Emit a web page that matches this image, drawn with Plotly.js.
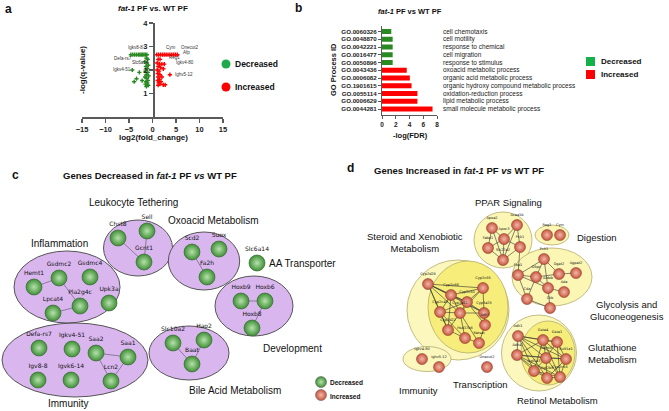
<!DOCTYPE html>
<html>
<head>
<meta charset="utf-8">
<script src="https://cdn.plot.ly/plotly-3.0.1.min.js"></script>
<style>body{margin:0;background:#fff;} #chart{width:669px;height:411px;}</style>
</head>
<body>
<div id="chart"></div>
<script>
// ---- panel a: volcano plot ----
var downX = [-4.6,-4.2,-3.8,-3.4,-3.0,-2.7,-2.4,-2.1,-1.8,-1.5,-1.2,
  -1.3,-1.0,-1.6,-1.2,-0.9,-1.4,-1.1,-4.3,-2.8,-1.5,-1.0,-1.3,-0.8,-3.4,-1.6,-1.2,-2.2,-1.0,-1.4,-3.9,-1.1,-1.5,-0.9,-1.3];
var downY = [2.65,2.65,2.65,2.65,2.65,2.65,2.65,2.65,2.65,2.65,2.65,
  2.5,2.45,2.35,2.3,2.2,2.15,2.05,2.0,1.9,1.95,1.9,1.8,1.75,1.63,1.7,1.65,1.55,1.55,1.5,1.5,1.45,1.4,1.35,1.3];
var upX = [0.9,1.3,1.7,2.1,2.5,2.9,3.3,3.7,4.1,4.5,4.9,5.3,
  1.2,1.6,1.0,1.5,2.0,2.5,1.2,1.7,2.3,1.0,1.4,1.1,1.6,3.7,1.2,2.0,1.5,1.1,1.8,1.3,1.6,2.3,2.7,1.2];
var upY = [2.65,2.65,2.65,2.65,2.65,2.65,2.65,2.65,2.65,2.65,2.65,2.65,
  2.45,2.45,2.3,2.25,2.25,2.25,2.15,2.1,2.05,2.0,1.95,1.85,1.8,1.8,1.7,1.7,1.6,1.55,1.5,1.45,1.4,1.37,1.37,1.35];
var geneLabels = ["Igkv8-8","Defa-rs7","Slc6a14","Igkv4-51","Cym","Onecut2","Afp","Reg1","Igkv4-80","Ighv5-12"];
var geneLabelX = [-3.7,-6.3,-2.6,-6.4,4.0,8.0,7.3,4.6,7.0,6.6];
var geneLabelY = [2.95,2.50,2.33,2.02,2.95,2.95,2.74,2.53,2.30,1.80];

// ---- panel b: GO enrichment ----
var goIds = ["GO.0060326","GO.0048870","GO.0042221","GO.0016477","GO.0050896","GO.0043436",
  "GO.0006082","GO.1901615","GO.0055114","GO.0006629","GO.0044281"];
var goTerms = ["cell chemotaxis","cell motility","response to chemical","cell migration","response to stimulus",
  "oxoacid metabolic process","organic acid metabolic process","organic hydroxy compound metabolic process",
  "oxidation-reduction process","lipid metabolic process","small molecule metabolic process"];
var goFdr = [1.35,1.55,1.55,1.55,1.55,3.6,4.05,4.3,5.15,5.15,7.35];
var goDir = ["down","down","down","down","down","up","up","up","up","up","up"];

// ---- panel c: decreased gene network ----
var cNames = ["Chst8","Sell","Gcnt1","Scd2","Suox","Fa2h","Slc6a14",
  "Hemt1","Gsdmc2","Gsdmc4","Pla2g4c","Lpcat4","Upk3a",
  "Defa-rs7","Igkv4-51","Saa2","Saa1","Igv8-8","Igvk6-14","Lcn2",
  "Slc10a2","Hao2","Baat","Hoxb9","Hoxb6","Hoxb8"];
var cX = [118,147,144,192,219,207,257, 34,59,90,80,53,109, 39,72,96,128,38,71,111, 173,204,192, 241,265,252];
var cY = [238,231,262,252,249,277,263, 287,278,277,306,313,303, 348,349,353,357,380,380,381, 343,340,364, 301,301,328];
var cEdges = [[0,2],[1,2],[3,5],[7,8],[8,10],[10,11],[15,16],[15,19],[16,19],[20,22],[21,22],[23,24],[24,25]];

// ---- panel d: increased gene network ----
var dNames = ["Apoa2","Acaa1b","Apoc3","Fabp1","Pck1","Slc27a2","Reg1","Cym",
  "Cyp2d26","Cyp2c65","Cyp2c68","Cyp2c50","Cyp2c40","Cyp3a11","Cyp3a25","Adh7","Cyp2d22","Hsd17b6","Retsat",
  "Pck1","Fbp1","G6pc","Dgat2","Agpat2","Aldob","Ada","Cda","Ckb",
  "Adh1","Adh4","Gsta4","Gsta1","Gstm3","Sult1a1","Ugt1a1","Ugt2b5","Cyp2c55",
  "Igkv4-80","Ighv5-12","Onecut2"];
var dX = [492,517,504,488,520,503,547,560,
  428,483,451,467,440,460,484,485,448,465,479,
  544,518,536,559,576,548,564,527,550,
  518,517,543,557,546,566,534,547,560,
  422,439,487];
var dY = [228,225,239,248,247,260,235,235,
  284,288,295,302,312,313,313,325,330,338,343,
  259,275,277,274,273,288,292,299,308,
  336,355,340,342,358,359,371,378,377,
  359,367,367];
var dEdges = [[0,2],[0,3],[0,5],[1,2],[1,4],[1,5],[2,3],[2,4],[2,5],[3,5],[4,5],[4,20],
  [8,10],[8,11],[8,12],[8,13],[8,14],[8,9],[8,16],[9,10],[9,11],[9,13],[9,14],[10,11],[10,12],[10,13],
  [10,14],[10,16],[11,12],[11,13],[11,14],[11,15],[12,13],[12,16],[12,17],[13,14],[13,16],[13,17],
  [13,18],[14,15],[15,18],[16,17],[17,18],
  [19,20],[19,21],[19,22],[19,24],[20,21],[20,24],[20,26],[21,24],[21,22],[22,23],[24,25],[24,27],[26,27],[21,26],
  [28,29],[28,30],[28,31],[28,32],[28,33],[28,34],[28,35],[29,30],[29,32],[29,34],[29,35],[29,36],[29,33],
  [30,31],[30,32],[30,33],[30,34],[30,36],[31,32],[31,33],[31,36],[32,33],[32,34],[32,35],[32,36],
  [33,35],[33,36],[34,35],[34,36],[35,36]];

var green = "#2a8a22", red = "#ff0000";

function edgeLines(xs, ys, edges) {
  var ex = [], ey = [];
  edges.forEach(function (e) {
    ex.push(xs[e[0]], xs[e[1]], null);
    ey.push(ys[e[0]], ys[e[1]], null);
  });
  return {x: ex, y: ey};
}
var cE = edgeLines(cX, cY, cEdges);
var dE = edgeLines(dX, dY, dEdges);

var traces = [
  {x: downX, y: downY, type: "scatter", mode: "markers", xaxis: "x", yaxis: "y",
   marker: {symbol: "cross", size: 3.5, color: green}},
  {x: upX, y: upY, type: "scatter", mode: "markers", xaxis: "x", yaxis: "y",
   marker: {symbol: "cross", size: 3.5, color: red}},
  {x: goFdr, y: goIds, type: "bar", orientation: "h", xaxis: "x2", yaxis: "y2",
   marker: {color: goDir.map(function (d) { return d === "down" ? green : red; })}},
  {x: cE.x, y: cE.y, type: "scatter", mode: "lines", xaxis: "x3", yaxis: "y3",
   line: {color: "#8c7a9c", width: 1}},
  {x: cX, y: cY, text: cNames, type: "scatter", mode: "markers+text", xaxis: "x3", yaxis: "y3",
   textposition: "top center", textfont: {family: "DejaVu Sans", size: 6, color: "#111"},
   marker: {size: 16, color: "#3f8f36", gradient: {type: "radial", color: "#b6e2ac"},
            line: {color: "#2b6326", width: 0.6}}},
  {x: dE.x, y: dE.y, type: "scatter", mode: "lines", xaxis: "x3", yaxis: "y3",
   line: {color: "#333", width: 0.6}},
  {x: dX, y: dY, text: dNames, type: "scatter", mode: "markers+text", xaxis: "x3", yaxis: "y3",
   textposition: "top center", textfont: {family: "DejaVu Sans", size: 3.5, color: "#111"},
   marker: {size: 11, color: "#c85540", gradient: {type: "radial", color: "#f2b8a8"},
            line: {color: "#7a3020", width: 0.5}}},
  {x: [321, 321], y: [382, 395], type: "scatter", mode: "markers", xaxis: "x3", yaxis: "y3",
   marker: {size: 11, color: ["#3f8f36", "#c85540"],
            gradient: {type: "radial", color: ["#b6e2ac", "#f2b8a8"]},
            line: {color: "#555", width: 0.5}}}
];

// group outlines (c: purple, d: yellow) in page pixel units
var cGroups = [[138,248,34.5,28],[204,261,35.7,29],[67,287,53,36],[75,360,73,37],[189,353,40,27],[254,306,39,30]];
var dGroups = [[458,310,51,50,"#fbf7bd"],[468,307,40,46,"#f6ed7a"],[503,240,29,28,"#fbf6b4"],
  [552,235,17,10,"#fbf6b4"],[552,277,40,29,"#fbf6b4"],[539,353,37.5,38,"#fbf7bd"],
  [548,353,27,32,"#f6ed7a"],[427,359,24,12.5,"#fbf7bd"]];
var shapes = [];
cGroups.forEach(function (g) {
  shapes.push({type: "circle", xref: "x3", yref: "y3", layer: "below",
    x0: g[0] - g[2], x1: g[0] + g[2], y0: g[1] - g[3], y1: g[1] + g[3],
    fillcolor: "#dab6ef", line: {color: "#555", width: 1}});
});
dGroups.forEach(function (g) {
  shapes.push({type: "circle", xref: "x3", yref: "y3", layer: "below",
    x0: g[0] - g[2], x1: g[0] + g[2], y0: g[1] - g[3], y1: g[1] + g[3],
    fillcolor: g[4], line: {color: "#b5ad6a", width: 0.8}});
});
// legend swatches
shapes.push({type: "circle", xref: "x3", yref: "y3", x0: 221.5, x1: 230.5, y0: 59.5, y1: 68.5, fillcolor: "#1eaa4a", line: {width: 0}});
shapes.push({type: "circle", xref: "x3", yref: "y3", x0: 221.5, x1: 230.5, y0: 82.5, y1: 91.5, fillcolor: red, line: {width: 0}});
shapes.push({type: "rect", xref: "x3", yref: "y3", x0: 586, x1: 595, y0: 57, y1: 66, fillcolor: "#14b04a", line: {width: 0}});
shapes.push({type: "rect", xref: "x3", yref: "y3", x0: 586, x1: 595, y0: 70, y1: 79, fillcolor: red, line: {width: 0}});

function txt(x, y, text, size, opts) {
  var a = {xref: "x3", yref: "y3", x: x, y: y, text: text, showarrow: false,
    font: {size: size, color: "#111"}};
  for (var k in opts) a[k] = opts[k];
  return a;
}
var annotations = [
  txt(8, 9, "<b>a</b>", 12), txt(298, 8, "<b>b</b>", 12), txt(15, 175, "<b>c</b>", 12), txt(350, 168, "<b>d</b>", 12),
  txt(153, 8, "<b><i>fat-1</i> PF vs. WT PF</b>", 8),
  txt(153, 137, "<b>log2(fold_change)</b>", 8),
  txt(82, 70, "<b>-log(q-value)</b>", 8, {textangle: -90}),
  txt(233, 64, "<b>Decreased</b>", 8.5, {xanchor: "left"}),
  txt(233, 87, "<b>Increased</b>", 8.5, {xanchor: "left"}),
  txt(410, 11, "<b><i>fat-1</i> PF vs WT PF</b>", 7.5),
  txt(410, 135, "<b>-log(FDR)</b>", 7.5),
  txt(333, 70, "<b>GO Process ID</b>", 7.5, {textangle: -90}),
  txt(599, 61, "<b>Decreased</b>", 8, {xanchor: "left"}),
  txt(599, 74, "<b>Increased</b>", 8, {xanchor: "left"}),
  txt(150, 175, "<b>Genes Decreased in <i>fat-1</i> PF <i>vs</i> WT PF</b>", 9.5),
  txt(459, 170, "<b>Genes Increased in <i>fat-1</i> PF <i>vs</i> WT PF</b>", 9.5),
  txt(133, 202, "Leukocyte Tethering", 10), txt(213, 220, "Oxoacid Metabolism", 10),
  txt(59, 243, "Inflammation", 10), txt(302, 263, "AA Transporter", 10),
  txt(292, 348, "Development", 10), txt(235, 390, "Bile Acid Metabolism", 10),
  txt(68, 403, "Immunity", 10),
  txt(508, 202, "PPAR Signaling", 9.5), txt(597, 237, "Digestion", 9.5),
  txt(415, 242, "Steroid and Xenobiotic<br>Metabolism", 9.5),
  txt(627, 310, "Glycolysis and<br>Gluconeogenesis", 9.5),
  txt(612, 353, "Glutathione<br>Metabolism", 9.5),
  txt(418, 390, "Immunity", 9.5), txt(480, 384, "Transcription", 9.5),
  txt(557, 400, "Retinol Metabolism", 9.5),
  txt(328, 382, "<b>Decreased</b>", 6.5, {xanchor: "left"}),
  txt(328, 396, "<b>Increased</b>", 6.5, {xanchor: "left"})
];
geneLabels.forEach(function (g, i) {
  annotations.push({xref: "x", yref: "y", x: geneLabelX[i], y: geneLabelY[i], text: g,
    showarrow: false, font: {size: 4.5, color: "#333"}});
});
goTerms.forEach(function (t, i) {
  annotations.push({xref: "x3", yref: "y2", x: 441, y: goIds[i], text: t, xanchor: "left",
    showarrow: false, font: {size: 6.5, color: "#222"}});
});

var axisLine = {showline: true, linecolor: "#5a5a5a", linewidth: 1.5, ticks: "outside", ticklen: 4,
  tickwidth: 1.5, tickcolor: "#5a5a5a", showgrid: false, zeroline: false};
function ax(o) { var a = {}; for (var k in axisLine) a[k] = axisLine[k]; for (var k2 in o) a[k2] = o[k2]; return a; }

var layout = {
  width: 669, height: 411, margin: {l: 0, r: 0, t: 0, b: 0},
  paper_bgcolor: "#fff", plot_bgcolor: "rgba(0,0,0,0)", showlegend: false,
  font: {family: "Liberation Sans, Arial, sans-serif", color: "#222"},
  xaxis: ax({domain: [82 / 669, 223 / 669], range: [-15, 15], tickvals: [-15, -10, -5, 0, 5, 10, 15],
    anchor: "y", tickfont: {size: 7.5, weight: "bold", color: "#222"}}),
  yaxis: ax({domain: [1 - 117 / 411, 1 - 23 / 411], range: [0, 4], tickvals: [1, 2, 3, 4],
    anchor: "free", position: 153 / 669, tickfont: {size: 7.5, weight: "bold", color: "#222"}}),
  xaxis2: ax({domain: [382 / 669, 437 / 669], range: [0, 8], tickvals: [0, 2, 4, 6, 8], anchor: "y2",
    linewidth: 1, tickwidth: 1, ticklen: 3, tickfont: {size: 6.5, weight: "bold", color: "#222"}}),
  yaxis2: ax({domain: [1 - 115 / 411, 1 - 26 / 411], anchor: "x2", type: "category",
    categoryorder: "array", categoryarray: goIds, tickmode: "array", tickvals: goIds, autorange: "reversed",
    linewidth: 1, tickwidth: 1, ticklen: 3, tickfont: {size: 6.2, weight: "bold", color: "#222"}}),
  xaxis3: {domain: [0, 1], range: [0, 669], visible: false, anchor: "y3", fixedrange: true},
  yaxis3: {domain: [0, 1], range: [411, 0], visible: false, anchor: "x3", fixedrange: true},
  bargap: 0.35,
  shapes: shapes,
  annotations: annotations
};

Plotly.newPlot("chart", traces, layout, {displayModeBar: false, staticPlot: true});
</script>
</body>
</html>
